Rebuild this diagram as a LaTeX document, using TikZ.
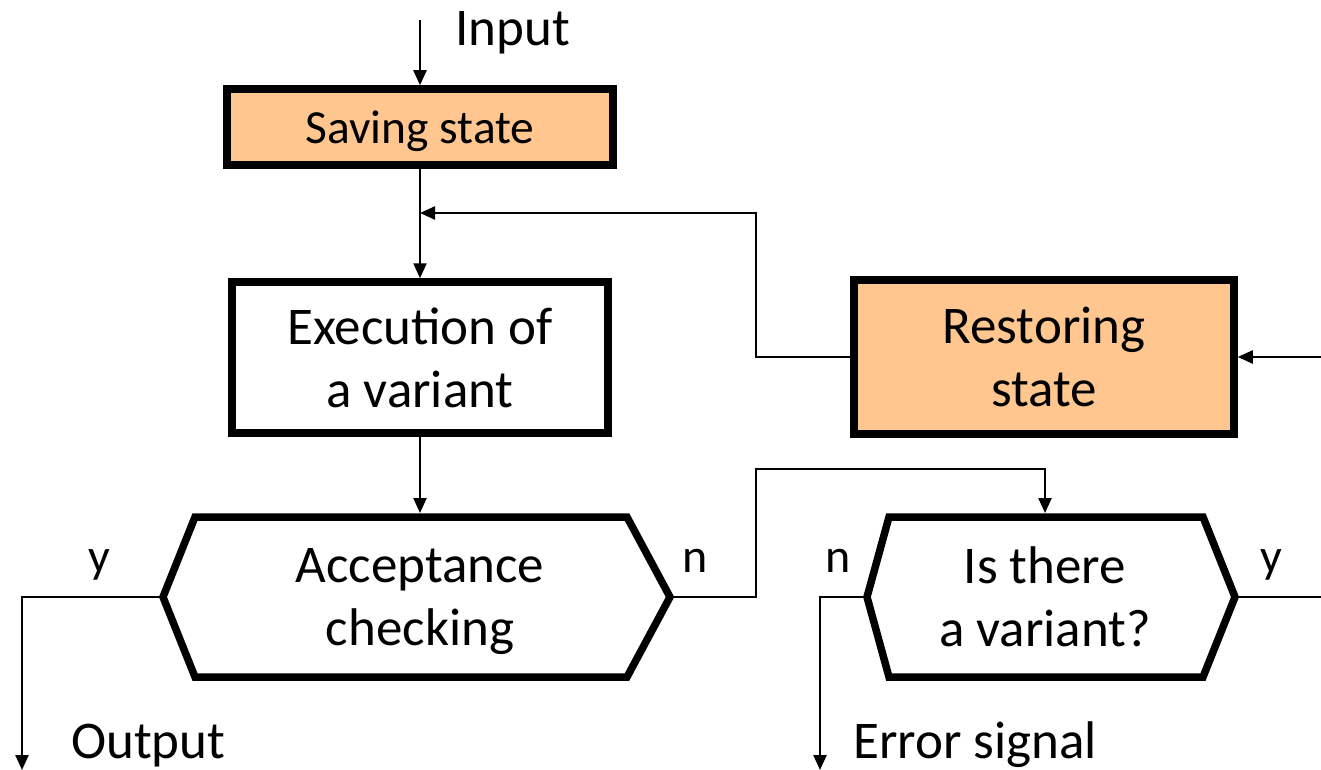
\documentclass[tikz,border=0pt]{standalone}
\usepackage{fontspec}
\setmainfont{Carlito}
\usetikzlibrary{arrows.meta}
\definecolor{peach}{RGB}{255,199,143}
\newcommand\blocktext{\fontsize{53}{63}\selectfont}
\newcommand\smalltext{\fontsize{48}{58}\selectfont}
\begin{document}
\begin{tikzpicture}[x=1pt,y=-1pt,
  blockbox/.style={draw, line width=7.5pt, inner sep=0pt, align=center, font=\blocktext},
  statebox/.style={blockbox, fill=peach},
  hexline/.style={draw, line width=7.5pt, line join=miter, fill=white},
  hextext/.style={inner sep=0pt, outer sep=0pt, align=center, font=\blocktext, minimum height=168pt},
  flow/.style={line width=2.4pt, -{Triangle[length=15pt,width=13pt]}},
  wire/.style={line width=2.4pt},
  lbl/.style={font=\smalltext, inner sep=0pt, anchor=base},
  term/.style={font=\blocktext, inner sep=0pt, anchor=base west}
]
\useasboundingbox (0,0) rectangle (1321,770);

% decision block corners
\coordinate (acc-w) at (163,597);
\coordinate (acc-e) at (670,597);
\coordinate (isv-w) at (867,597);
\coordinate (isv-e) at (1235,597);

% hexagon outlines
\draw[hexline] (195,517) -- (627,517) -- (acc-e) -- (627,677) -- (195,677) -- (acc-w) -- cycle;
\draw[hexline] (889,517) -- (1203,517) -- (isv-e) -- (1203,677) -- (889,677) -- (isv-w) -- cycle;

% process blocks
\node[statebox, minimum width=386pt, minimum height=76pt, text depth=0pt,
      font=\fontsize{47.5}{57}\selectfont] (sav) at (420,127) {Saving state};
\node[blockbox, minimum width=376pt, minimum height=151pt] (exe) at (420,357.5) {Execution of\\a variant};
\node[statebox, minimum width=380pt, minimum height=154pt] (rst) at (1044,357) {Restoring\\state};

% decision texts
\node[hextext, text depth=0pt] (acc) at (420,597) {Acceptance\\checking};
\node[hextext] (isv) at (1045,597) {Is there\\a variant?};

% free ends of connectors
\coordinate (in) at (420,20);
\coordinate (join) at (420,213);
\coordinate (rin) at (1321,357);
\coordinate (bend) at (756,469);
\coordinate (out) at (22,770);
\coordinate (err) at (820,770);
\coordinate (yout) at (1321,597);

% connectors
\draw[flow] (in) -- (sav.north);
\draw[flow] (sav.south) -- (exe.north);
\draw[flow] (rst.west) -| (756,357) |- (join);
\draw[flow] (rin) -- (rst.east);
\draw[flow] (exe.south) -- (exe.south |- acc.north);
\draw[flow] (acc-w) -| (out);
\draw[flow] (acc-e) -| (bend) -| (isv.north);
\draw[flow] (isv-w) -| (err);
\draw[wire] (isv-e) -- (yout);

% labels
\node[term] (linput) at (455,46) {Input};
\node[lbl] (ly1) at (99,572) {y};
\node[lbl] (ln1) at (695,572) {n};
\node[lbl] (ln2) at (838,572) {n};
\node[lbl] (ly2) at (1271,572) {y};
\node[term] (lout) at (71,758) {Output};
\node[term] (lerr) at (853,758) {Error signal};
\end{tikzpicture}
\end{document}
